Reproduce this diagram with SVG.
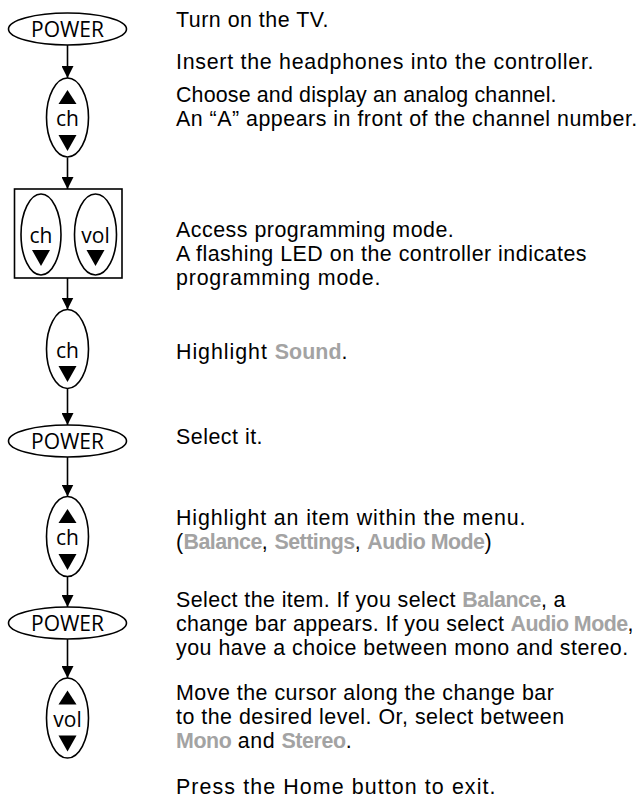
<svg xmlns="http://www.w3.org/2000/svg" width="641" height="802" viewBox="0 0 641 802">
<style>
.btn{fill:#fff;stroke:#000;stroke-width:1.6}
.box{fill:none;stroke:#000;stroke-width:1.6}
.lbl{font-family:"Open Sans","Noto Sans","Liberation Sans",sans-serif;font-size:21px;fill:#000;text-anchor:middle}
.tri{fill:#000}
.conn{stroke:#000;stroke-width:1.6;fill:none}
.t{font-family:"Liberation Sans",Arial,sans-serif;font-size:21.4px;letter-spacing:0.5px;fill:#000}
.hl{fill:#a3a3a3;font-weight:700;letter-spacing:-0.4px}
</style>
<defs>
<marker id="ah" markerUnits="userSpaceOnUse" markerWidth="14" markerHeight="12" refX="12" refY="6" orient="auto">
<path d="M0,0 L12,6 L0,12 Z" fill="#000"/>
</marker>
<path id="up" d="M0,-7 L9,7 L-9,7 Z"/>
<path id="dn" d="M-9,-8 L9,-8 L0,8 Z"/>
</defs>

<g id="connectors">
<line class="conn" x1="67.5" y1="45" x2="67.5" y2="78" marker-end="url(#ah)"/>
<line class="conn" x1="67.5" y1="157.5" x2="67.5" y2="189" marker-end="url(#ah)"/>
<line class="conn" x1="67.5" y1="278" x2="67.5" y2="309.5" marker-end="url(#ah)"/>
<line class="conn" x1="67.5" y1="388.5" x2="67.5" y2="425" marker-end="url(#ah)"/>
<line class="conn" x1="67.5" y1="457" x2="67.5" y2="496.5" marker-end="url(#ah)"/>
<line class="conn" x1="67.5" y1="576.5" x2="67.5" y2="607" marker-end="url(#ah)"/>
<line class="conn" x1="67.5" y1="639" x2="67.5" y2="678" marker-end="url(#ah)"/>
</g>

<g id="power1">
<ellipse class="btn" cx="67.5" cy="29" rx="59" ry="16"/>
<text class="lbl" x="67.5" y="36.5">POWER</text>
</g>

<g id="ch1">
<ellipse class="btn" cx="67.5" cy="117.5" rx="21" ry="39.5"/>
<use href="#up" class="tri" x="67.5" y="97"/>
<text class="lbl" x="67.5" y="126">ch</text>
<use href="#dn" class="tri" x="67.5" y="143"/>
</g>

<g id="prog">
<rect class="box" x="14.5" y="189" width="107.5" height="89"/>
<ellipse class="btn" cx="41" cy="234.5" rx="20" ry="40.5"/>
<text class="lbl" x="41" y="243">ch</text>
<use href="#dn" class="tri" x="41" y="258"/>
<ellipse class="btn" cx="95.5" cy="234.5" rx="21" ry="40.5"/>
<text class="lbl" x="95.5" y="243">vol</text>
<use href="#dn" class="tri" x="95.5" y="258"/>
</g>

<g id="ch3">
<ellipse class="btn" cx="67.5" cy="349" rx="21" ry="39.5"/>
<text class="lbl" x="67.5" y="357.5">ch</text>
<use href="#dn" class="tri" x="67.5" y="374"/>
</g>

<g id="power2">
<ellipse class="btn" cx="67.5" cy="441" rx="59" ry="16"/>
<text class="lbl" x="67.5" y="448.5">POWER</text>
</g>

<g id="ch2">
<ellipse class="btn" cx="67.5" cy="536.5" rx="21" ry="40"/>
<use href="#up" class="tri" x="67.5" y="516"/>
<text class="lbl" x="67.5" y="545">ch</text>
<use href="#dn" class="tri" x="67.5" y="562"/>
</g>

<g id="power3">
<ellipse class="btn" cx="67.5" cy="623" rx="59" ry="16"/>
<text class="lbl" x="67.5" y="630.5">POWER</text>
</g>

<g id="vol">
<ellipse class="btn" cx="67.5" cy="718" rx="21" ry="40"/>
<use href="#up" class="tri" x="67.5" y="697.5"/>
<text class="lbl" x="67.5" y="726.5">vol</text>
<use href="#dn" class="tri" x="67.5" y="743.5"/>
</g>

<g id="steps">
<text class="t" x="176" y="27">Turn on the TV.</text>
<text class="t" x="176" y="69" textLength="418">Insert the headphones into the controller.</text>
<text class="t" x="176" y="102" textLength="381">Choose and display an analog channel.</text>
<text class="t" x="176" y="126">An “A” appears in front of the channel number.</text>
<text class="t" x="176" y="237">Access programming mode.</text>
<text class="t" x="176" y="261">A flashing LED on the controller indicates</text>
<text class="t" x="176" y="285" textLength="205">programming mode.</text>
<text class="t" x="176" y="359" textLength="172">Highlight <tspan class="hl">Sound</tspan>.</text>
<text class="t" x="176" y="444">Select it.</text>
<text class="t" x="176" y="525" textLength="350">Highlight an item within the menu.</text>
<text class="t" x="176" y="549" textLength="316">(<tspan class="hl">Balance</tspan>, <tspan class="hl">Settings</tspan>, <tspan class="hl">Audio Mode</tspan>)</text>
<text class="t" x="176" y="607" textLength="390">Select the item. If you select <tspan class="hl">Balance</tspan>, a</text>
<text class="t" x="176" y="631" textLength="458">change bar appears. If you select <tspan class="hl">Audio Mode</tspan>,</text>
<text class="t" x="176" y="655">you have a choice between mono and stereo.</text>
<text class="t" x="176" y="700">Move the cursor along the change bar</text>
<text class="t" x="176" y="724">to the desired level. Or, select between</text>
<text class="t" x="176" y="748"><tspan class="hl">Mono</tspan> and <tspan class="hl">Stereo</tspan>.</text>
<text class="t" x="176" y="794" textLength="320">Press the Home button to exit.</text>
</g>
</svg>
